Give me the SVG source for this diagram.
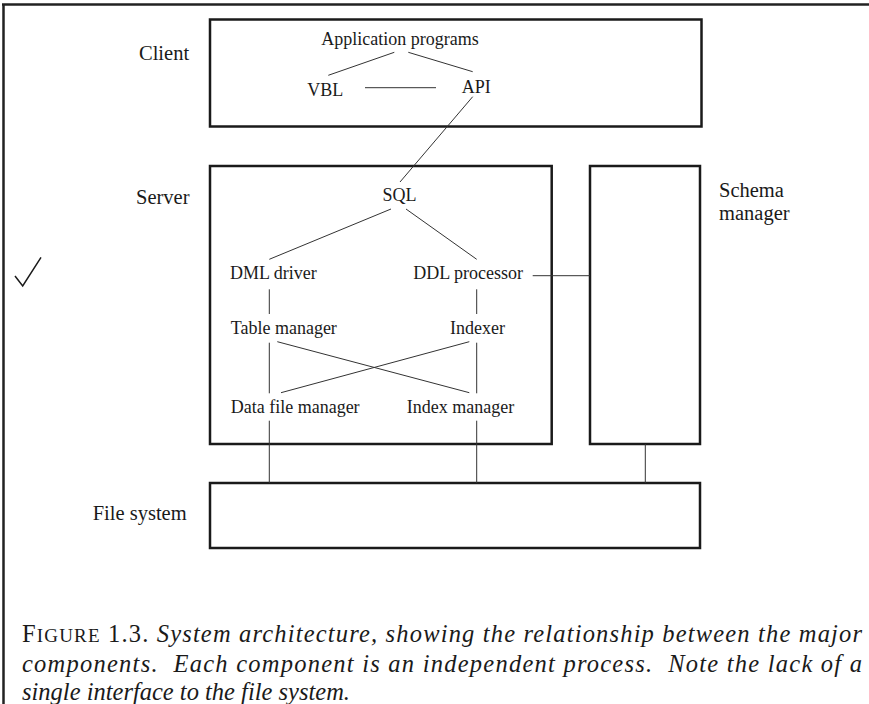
<svg xmlns="http://www.w3.org/2000/svg" width="869" height="704" viewBox="0 0 869 704">
<style>
.box{fill:none;stroke:#1a1a1a;stroke-width:2.5}
.ln{stroke:#333;stroke-width:1;fill:none}
.lab{font-family:"Liberation Serif","Times New Roman",serif;font-size:20.5px;fill:#1a1a1a}
.in{font-family:"Liberation Serif","Times New Roman",serif;font-size:18px;fill:#1a1a1a}
.cap{font-family:"Liberation Serif","Times New Roman",serif;font-size:24.5px;fill:#1a1a1a;font-style:italic}
.up{font-style:normal}
</style>
<rect x="0" y="0" width="869" height="704" fill="#fff"/>
<g id="frame">
<line x1="2" y1="4.5" x2="869" y2="4.5" stroke="#222" stroke-width="2.5"/>
<line x1="3.5" y1="4" x2="3.5" y2="704" stroke="#222" stroke-width="2.5"/>
</g>
<g id="client">
<rect class="box" x="210" y="19.5" width="491.5" height="107"/>
<text class="lab" x="139" y="60">Client</text>
</g>
<g id="app"><text class="in" x="400" y="45" text-anchor="middle">Application programs</text></g>
<g id="vbl"><text class="in" x="307.3" y="95.5">VBL</text></g>
<g id="api"><text class="in" x="461.7" y="92.5">API</text></g>
<g id="server">
<rect class="box" x="210" y="166" width="341.7" height="278"/>
<text class="lab" x="136" y="204.3">Server</text>
</g>
<g id="sql"><text class="in" x="399.5" y="200.7" text-anchor="middle">SQL</text></g>
<g id="dml"><text class="in" x="230" y="279">DML driver</text></g>
<g id="ddl"><text class="in" x="413.3" y="279">DDL processor</text></g>
<g id="table"><text class="in" x="230.7" y="334">Table manager</text></g>
<g id="indexer"><text class="in" x="450" y="334">Indexer</text></g>
<g id="datafile"><text class="in" x="230.7" y="412.7">Data file manager</text></g>
<g id="indexmgr"><text class="in" x="406.7" y="412.7">Index manager</text></g>
<g id="schema">
<rect class="box" x="590" y="166" width="110" height="278"/>
<text class="lab" x="719" y="197">Schema</text>
<text class="lab" x="719" y="220">manager</text>
</g>
<g id="filesystem">
<rect class="box" x="210" y="483" width="490" height="65"/>
<text class="lab" x="92.7" y="519.5">File system</text>
</g>
<g id="connectors">
<line class="ln" x1="394.3" y1="52.3" x2="328.3" y2="75.3"/>
<line class="ln" x1="408.3" y1="52.3" x2="472.7" y2="71.7"/>
<line class="ln" x1="365" y1="87.7" x2="436" y2="87.7"/>
<line class="ln" x1="472.7" y1="96.7" x2="400" y2="182"/>
<line class="ln" x1="391" y1="209" x2="269.3" y2="259.3"/>
<line class="ln" x1="406" y1="209" x2="476.7" y2="259.3"/>
<line class="ln" x1="532.7" y1="275.7" x2="590" y2="275.7"/>
<line class="ln" x1="269.3" y1="289.3" x2="269.3" y2="314"/>
<line class="ln" x1="476.7" y1="289.3" x2="476.7" y2="314"/>
<line class="ln" x1="269.3" y1="342.7" x2="269.3" y2="393.3"/>
<line class="ln" x1="476.7" y1="342.7" x2="476.7" y2="393.3"/>
<line class="ln" x1="277.3" y1="341.7" x2="469.3" y2="392.7"/>
<line class="ln" x1="469.3" y1="341.7" x2="281" y2="392.7"/>
<line class="ln" x1="269.3" y1="420.7" x2="269.3" y2="483"/>
<line class="ln" x1="476.7" y1="420.7" x2="476.7" y2="483"/>
<line class="ln" x1="645.3" y1="444" x2="645.3" y2="483"/>
</g>
<g id="check"><polyline points="15,276 22.7,286 41,257.3" fill="none" stroke="#1a1a1a" stroke-width="1.5"/></g>
<g id="caption">
<text class="cap" x="22" y="642" textLength="840" lengthAdjust="spacing" xml:space="preserve"><tspan class="up">F</tspan><tspan class="up" font-size="19">IGURE</tspan><tspan class="up"> 1.3. </tspan>System architecture, showing the relationship between the major</text>
<text class="cap" x="22" y="672" textLength="840" lengthAdjust="spacing" xml:space="preserve">components.  Each component is an independent process.  Note the lack of a</text>
<text class="cap" x="22" y="699.5">single interface to the file system.</text>
</g>
</svg>
